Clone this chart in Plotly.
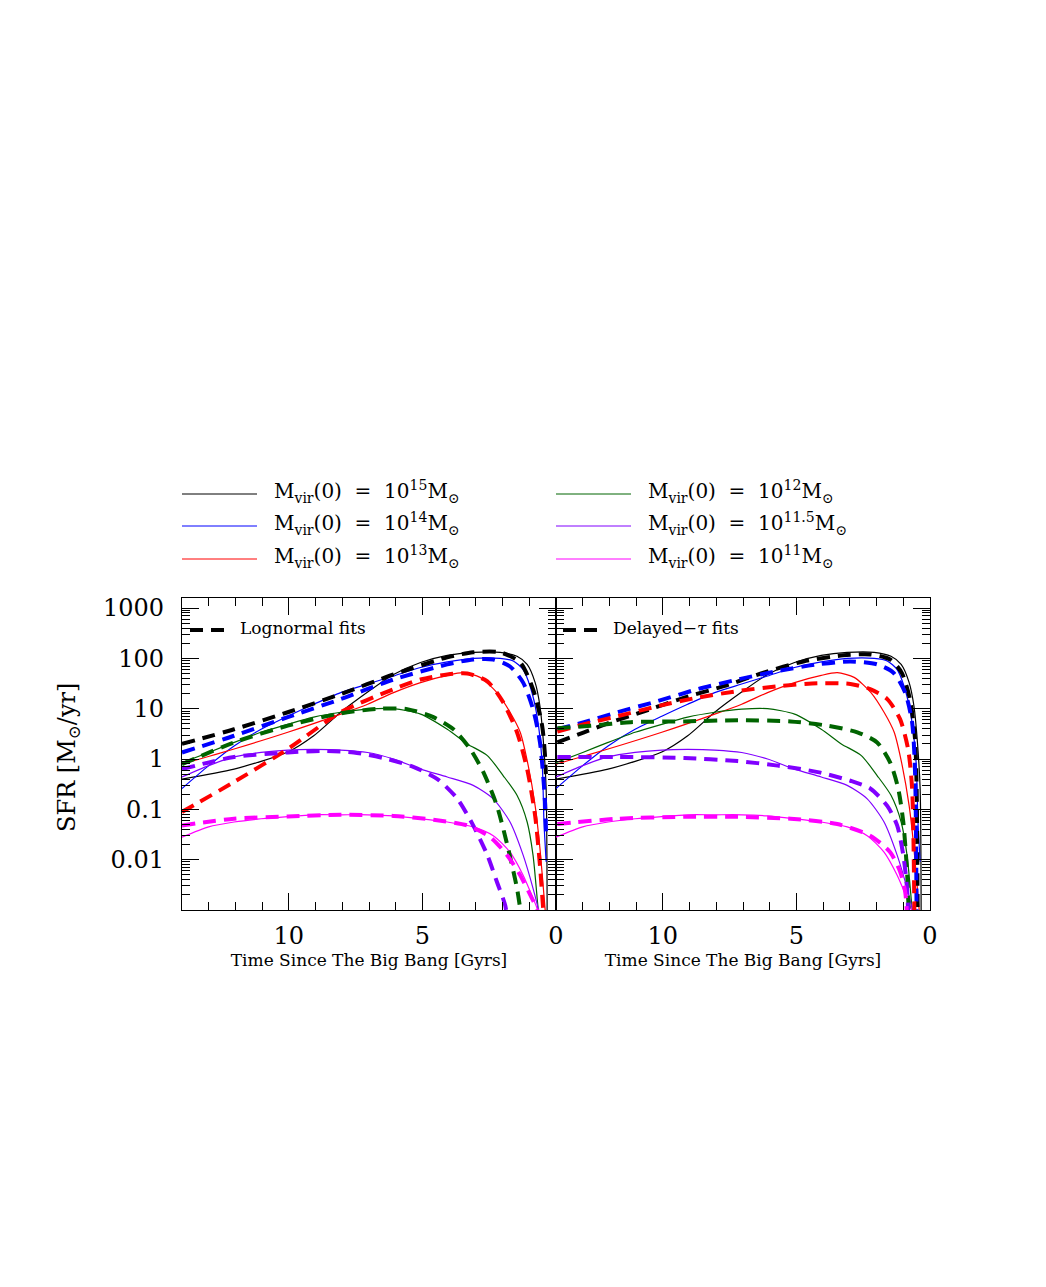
import plotly.graph_objects as go
from plotly.subplots import make_subplots

# masses (log10 Mvir(0)) and line colours
masses = ["15", "14", "13", "12", "11.5", "11"]
colors = ["#000000", "#0000ff", "#ff0000", "#006400", "#8000ff", "#ff00ff"]

# simulation SFR histories (same in both panels), x = Gyr as labelled on the axis
sim15_t = [14, 12.05, 10.04, 9.07, 8.06, 7.05, 6.08, 5.07, 4.07, 3.1, 2.09, 1.46, 1.08, 0.78, 0.6, 0.48, 0.37, 0.33]
sim15_sfr = [0.40, 0.63, 1.38, 2.9, 8.5, 21.4, 47.9, 83, 115, 132, 132, 110, 76, 33, 11.2, 2.5, 0.26, 0.0005]
sim14_t = [14, 13.0, 12.05, 11.04, 10.04, 9.07, 8.06, 7.05, 6.08, 5.07, 4.07, 3.1, 2.09, 1.6, 1.23, 0.97, 0.71, 0.52, 0.45, 0.37]
sim14_sfr = [0.26, 0.74, 1.82, 3.9, 7.1, 12.3, 20.9, 30.9, 44.7, 66, 85, 100, 100, 89, 60, 28, 7.2, 0.85, 0.056, 0.0091]
sim13_t = [14, 12.05, 10.04, 8.06, 7.05, 6.08, 5.07, 4.07, 3.47, 2.84, 2.21, 1.72, 1.34, 1.04, 0.78, 0.6, 0.41, 0.35]
sim13_sfr = [0.79, 1.58, 3.4, 7.8, 12.3, 20.9, 33, 46, 52, 42, 20.9, 8.5, 3.4, 0.74, 0.117, 0.0166, 0.00107, 0.0005]
sim12_t = [14, 13.0, 12.05, 11.04, 10.04, 9.07, 8.06, 7.05, 6.08, 5.07, 4.07, 3.32, 2.57, 1.98, 1.46, 1.08, 0.86, 0.67, 0.6]
sim12_sfr = [0.85, 1.35, 2.14, 3.4, 4.9, 6.8, 8.5, 9.8, 10.0, 7.8, 3.9, 2.0, 1.17, 0.47, 0.19, 0.056, 0.0123, 0.00107, 0.0005]
sim115_t = [14, 13.0, 12.05, 11.04, 10.04, 9.07, 8.06, 7.05, 6.08, 5.07, 4.07, 3.1, 2.35, 1.72, 1.23, 0.86, 0.67, 0.6]
sim115_sfr = [0.44, 0.74, 1.10, 1.35, 1.51, 1.55, 1.51, 1.35, 1.0, 0.63, 0.44, 0.30, 0.162, 0.056, 0.0123, 0.0027, 0.00107, 0.0005]
sim11_t = [14, 13.0, 12.05, 11.04, 10.04, 9.07, 8.06, 7.05, 6.08, 5.07, 4.07, 3.1, 2.35, 1.72, 1.23, 0.86, 0.71, 0.65]
sim11_sfr = [0.028, 0.045, 0.056, 0.065, 0.072, 0.078, 0.078, 0.078, 0.074, 0.065, 0.056, 0.045, 0.030, 0.0141, 0.0049, 0.0017, 0.00107, 0.0005]

# lognormal fits (left panel)
logn15_t = [14, 12.05, 10.04, 8.06, 6.08, 4.07, 3.1, 2.09, 1.34, 0.86, 0.52, 0.41, 0.38]
logn15_sfr = [2.0, 3.9, 8.5, 19.5, 48, 105, 132, 132, 83, 24.5, 4.6, 1.15, 0.5]
logn14_t = [14, 12.05, 10.04, 8.06, 6.08, 4.07, 3.1, 2.35, 1.72, 1.23, 0.86, 0.6, 0.41, 0.37]
logn14_sfr = [1.35, 2.9, 6.8, 15.5, 38, 76, 95, 95, 69, 33, 9.8, 2.14, 0.138, 0.025]
logn13_t = [14, 12.05, 10.04, 8.06, 6.08, 5.07, 4.07, 3.32, 2.57, 1.98, 1.46, 1.08, 0.78, 0.6, 0.48, 0.42]
logn13_sfr = [0.089, 0.35, 1.58, 8.5, 24.5, 38, 48, 50, 35, 13.5, 3.4, 0.63, 0.074, 0.0076, 0.00107, 0.0005]
logn12_t = [14, 12.05, 10.04, 8.06, 6.57, 5.57, 4.59, 3.84, 3.21, 2.72, 2.21, 1.79, 1.46, 1.34, 1.25]
logn12_sfr = [0.79, 2.14, 4.6, 8.1, 10.0, 9.8, 6.8, 3.9, 1.58, 0.55, 0.117, 0.0166, 0.0027, 0.00107, 0.0005]
logn115_t = [14, 12.05, 10.04, 8.8, 7.57, 6.31, 5.32, 4.44, 3.69, 3.1, 2.57, 2.21, 1.9, 1.8]
logn115_sfr = [0.63, 1.10, 1.35, 1.45, 1.35, 1.0, 0.69, 0.40, 0.162, 0.048, 0.0123, 0.0036, 0.00123, 0.0005]
logn11_t = [14, 12.05, 10.04, 8.06, 6.08, 4.59, 3.32, 2.46, 1.83, 1.34, 0.9, 0.71, 0.65]
logn11_sfr = [0.048, 0.065, 0.072, 0.078, 0.074, 0.062, 0.048, 0.028, 0.0123, 0.0049, 0.0017, 0.00107, 0.0005]

# delayed-tau fits (right panel)
dtau15_t = [13.95, 12.95, 11.94, 10.7, 9.2, 7.72, 6.23, 4.74, 3.25, 2.24, 1.49, 1.06, 0.75, 0.56, 0.5, 0.46]
dtau15_sfr = [2.14, 3.4, 5.4, 8.9, 16.6, 28, 52, 87, 115, 120, 95, 52, 15.5, 2.5, 0.26, 0.0005]
dtau14_t = [13.95, 12.95, 11.7, 10.2, 8.7, 7.2, 5.7, 4.2, 2.98, 1.98, 1.37, 0.93, 0.67, 0.56, 0.5]
dtau14_sfr = [3.9, 5.4, 8.5, 14.1, 24.5, 38, 56, 76, 87, 76, 52, 20.9, 5.4, 0.55, 0.0005]
dtau13_t = [13.95, 12.95, 11.7, 10.2, 8.7, 7.2, 5.7, 4.2, 2.98, 2.24, 1.6, 1.12, 0.82, 0.67, 0.58]
dtau13_sfr = [3.5, 4.9, 7.1, 11.2, 16.6, 22.4, 28, 32, 31, 24.5, 15.5, 6.2, 1.58, 0.26, 0.0005]
dtau12_t = [13.95, 12.7, 11.2, 9.2, 7.2, 5.22, 3.85, 2.72, 1.98, 1.49, 1.19, 1.0, 0.86, 0.78]
dtau12_sfr = [4.1, 4.6, 5.4, 5.6, 5.9, 5.6, 4.6, 3.4, 2.14, 0.85, 0.26, 0.056, 0.0058, 0.0005]
dtau115_t = [13.95, 11.7, 9.2, 7.2, 5.7, 4.2, 2.98, 2.24, 1.6, 1.23, 1.0, 0.86, 0.8]
dtau115_sfr = [1.10, 1.10, 1.05, 0.91, 0.74, 0.55, 0.37, 0.26, 0.117, 0.048, 0.0123, 0.0027, 0.0005]
dtau11_t = [13.95, 11.7, 9.2, 7.2, 5.22, 3.47, 2.24, 1.49, 1.12, 0.93, 0.84]
dtau11_sfr = [0.051, 0.065, 0.071, 0.071, 0.065, 0.051, 0.030, 0.0141, 0.0058, 0.0023, 0.0005]

sims = [(sim15_t, sim15_sfr), (sim14_t, sim14_sfr), (sim13_t, sim13_sfr),
        (sim12_t, sim12_sfr), (sim115_t, sim115_sfr), (sim11_t, sim11_sfr)]
logn = [(logn15_t, logn15_sfr), (logn14_t, logn14_sfr), (logn13_t, logn13_sfr),
        (logn12_t, logn12_sfr), (logn115_t, logn115_sfr), (logn11_t, logn11_sfr)]
dtau = [(dtau15_t, dtau15_sfr), (dtau14_t, dtau14_sfr), (dtau13_t, dtau13_sfr),
        (dtau12_t, dtau12_sfr), (dtau115_t, dtau115_sfr), (dtau11_t, dtau11_sfr)]

xticks = [10, 5, 0]
yticks = [0.01, 0.1, 1, 10, 100, 1000]
yticklabels = ["0.01", "0.1", "1", "10", "100", "1000"]

FONT = "DejaVu Serif"
DASH = "13px,8px"
OFF = 8  # page body margin in the browser

fig = make_subplots(rows=1, cols=2, horizontal_spacing=0, shared_yaxes=True)

for col, fits in [(1, logn), (2, dtau)]:
    for (t, s), c in zip(sims, colors):
        fig.add_trace(go.Scatter(x=t, y=s, mode="lines", line=dict(color=c, width=1.2, shape="spline", smoothing=0.7),
                                 showlegend=False, hoverinfo="skip"), row=1, col=col)
    for (t, s), c in zip(fits, colors):
        fig.add_trace(go.Scatter(x=t, y=s, mode="lines", line=dict(color=c, width=4, dash=DASH, shape="spline", smoothing=0.7),
                                 showlegend=False, hoverinfo="skip"), row=1, col=col)

axis_common = dict(showline=True, linecolor="black", linewidth=1.3, mirror="allticks",
                   ticks="inside", tickcolor="black", tickwidth=1, showgrid=False, zeroline=False,
                   tickfont=dict(family=FONT, size=24, color="black"))

for col in (1, 2):
    fig.update_xaxes(range=[14, 0], tickvals=xticks, ticklen=17, ticklabelstandoff=4,
                     minor=dict(ticks="inside", dtick=1, ticklen=8, tickcolor="black", tickwidth=1, showgrid=False),
                     title=dict(text="Time Since The Big Bang [Gyrs]", font=dict(family=FONT, size=17, color="black"), standoff=4),
                     row=1, col=col, **axis_common)
    fig.update_yaxes(type="log", range=[-3, 3.2], tickvals=yticks, ticktext=yticklabels, ticklen=17,
                     ticklabelstandoff=12, showticklabels=(col == 1),
                     minor=dict(ticks="inside", dtick="D1", ticklen=8, tickcolor="black", tickwidth=1, showgrid=False),
                     row=1, col=col, **axis_common)

# legend drawn by hand, two columns (positions given in page pixels)
W, H = 748.0, 312.0
def px_x(p):
    return (p - 182) / W
def px_y(p):
    return (910 - p) / H

shapes = []
annotations = []
nb = "\u00a0"
rows_y = [494, 526, 559]
for i, (m, c) in enumerate(zip(masses, colors)):
    x0 = 182 if i < 3 else 556
    yy = rows_y[i % 3]
    shapes.append(dict(type="line", xref="paper", yref="paper", x0=px_x(x0), x1=px_x(x0 + 75),
                       y0=px_y(yy), y1=px_y(yy), line=dict(color=c, width=1)))
    txt = f"M<sub>vir</sub>(0){nb}{nb}={nb}{nb}10<sup>{m}</sup>M<sub>\u2299</sub>"
    annotations.append(dict(text=txt, xref="paper", yref="paper", x=px_x(x0 + 90), y=px_y(yy - 3),
                            xanchor="left", yanchor="middle", showarrow=False,
                            font=dict(family=FONT, size=20, color="black")))

# fit-type labels inside panels
for x0, label in [(190, "Lognormal fits"), (563, "Delayed\u2212<i>\u03c4</i> fits")]:
    shapes.append(dict(type="line", xref="paper", yref="paper", x0=px_x(x0), x1=px_x(x0 + 40),
                       y0=px_y(630), y1=px_y(630), line=dict(color="black", width=4, dash=DASH)))
    annotations.append(dict(text=label, xref="paper", yref="paper", x=px_x(x0 + 48), y=px_y(628),
                            xanchor="left", yanchor="middle", showarrow=False,
                            font=dict(family=FONT, size=17, color="black")))

annotations.append(dict(text="SFR [M<sub>\u2299</sub>/yr]", xref="paper", yref="paper",
                        x=px_x(68), y=px_y(758), textangle=-90, showarrow=False,
                        xanchor="center", yanchor="middle",
                        font=dict(family=FONT, size=24, color="black")))

fig.update_layout(width=1046 - OFF, height=1287 - OFF,
                  margin=dict(l=182 - OFF, r=116, t=598 - OFF, b=377),
                  paper_bgcolor="white", plot_bgcolor="white", showlegend=False,
                  shapes=shapes, annotations=annotations)

fig.write_html("out.html")
